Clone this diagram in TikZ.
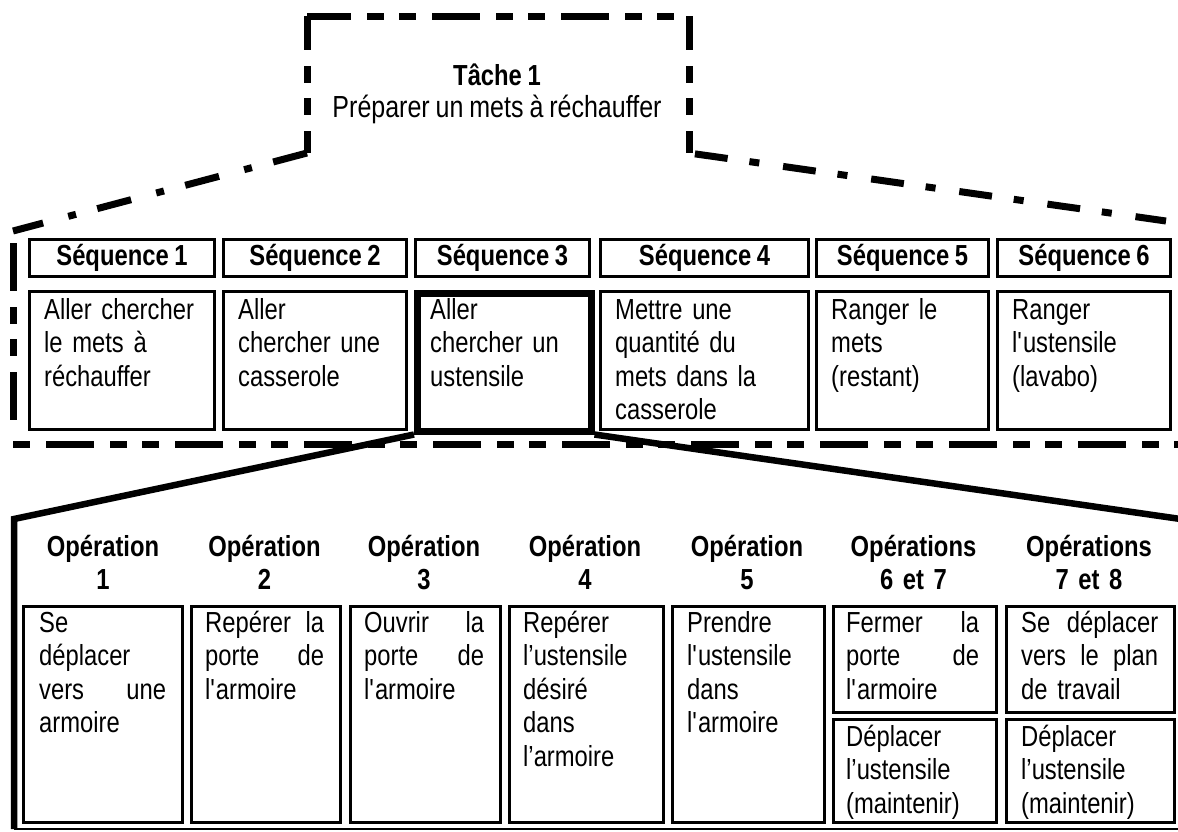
\documentclass[tikz,border=0pt]{standalone}
\usepackage{fontspec}
\setmainfont{Liberation Sans}[FakeStretch=0.82, WordSpace=0.85]
\newcommand\bodyfont{\fontsize{29}{33.5}\selectfont}
\newcommand\jl[1]{\leavevmode\hbox to \linewidth{#1}}
\newcommand\sq{\textquotesingle}
\begin{document}
\begin{tikzpicture}[x=1pt,y=-1pt,
  dashA/.style={line width=7pt, dash pattern=on 48pt off 16pt on 17pt off 15pt on 17pt off 16pt},
  dashdot/.style={line width=7pt, dash pattern=on 35pt off 22pt on 8pt off 26pt},
  dashdotR/.style={line width=7pt, dash pattern=on 33pt off 22pt on 10pt off 24pt},
  cell/.style={draw, line width=3pt, inner sep=0pt, anchor=north west},
  headcell/.style={cell, minimum height=37pt, font=\bfseries\bodyfont},
  heavy/.style={line width=6.5pt, line join=miter},
  txt/.style={anchor=north west, inner sep=0pt, text height=18pt, align=left, font=\bodyfont},
  ophead/.style={anchor=north, inner sep=0pt, text height=18pt, align=center, font=\bfseries\bodyfont}
]
\useasboundingbox (0,0) rectangle (1178,831);

% ---- task box (open at the bottom) ----
\coordinate (tBL) at (307,153);
\coordinate (tTL) at (307,16);
\coordinate (tTR) at (689,16);
\coordinate (tBR) at (689,153);
\draw[dashA, dash phase=4pt] (tTL) -- (tTR);
\draw[dashA, dash phase=14pt] (tTL) -- (tBL);
\draw[dashA, dash phase=14pt] (tTR) -- (tBR);
\node[anchor=base, font=\bfseries\bodyfont, inner sep=0pt] (tache) at (497,85) {Tâche 1};
\node[anchor=base, font=\fontsize{30.5}{34}\selectfont, inner sep=0pt] (tacheTxt) at (497,117) {Préparer un mets à réchauffer};

% ---- dash-dot flares towards the sequence band ----
\coordinate (sTL) at (13,231);
\coordinate (sTR) at (1166,221);
\draw[dashdot] (tBL) -- (sTL);
\draw[dashdotR, dash phase=83pt] (tBR) -- (sTR);

% ---- sequence band outline ----
\coordinate (sL1) at (13,232);
\coordinate (sL2) at (13,430);
\coordinate (sB1) at (13,444);
\coordinate (sB2) at (1178,444);
\draw[dashA, dash phase=118pt] (sL1) -- (sL2);
\draw[dashA, dash phase=96pt] (sB1) -- (sB2);

% ---- sequence headers ----
\node[headcell, minimum width=185pt] (h1) at (28,238)  {Séquence 1};
\node[headcell, minimum width=183pt] (h2) at (222,238) {Séquence 2};
\node[headcell, minimum width=174pt] (h3) at (414,238) {Séquence 3};
\node[headcell, minimum width=208pt] (h4) at (599,238) {Séquence 4};
\node[headcell, minimum width=172pt] (h5) at (815,238) {Séquence 5};
\node[headcell, minimum width=173pt] (h6) at (996,238) {Séquence 6};

% ---- sequence contents ----
\node[cell, minimum width=185pt, minimum height=138pt] (c1) at (28,290) {};
\node[cell, minimum width=183pt, minimum height=138pt] (c2) at (222,290) {};
\node[cell, line width=6.5pt, minimum width=174pt, minimum height=138pt] (c3) at (414,290) {};
\node[cell, minimum width=208pt, minimum height=138pt] (c4) at (599,290) {};
\node[cell, minimum width=172pt, minimum height=138pt] (c5) at (815,290) {};
\node[cell, minimum width=173pt, minimum height=138pt] (c6) at (996,290) {};

\node[txt, text width=155pt] at ([shift={(16,11)}]c1.north west) {Aller chercher\\le mets à\\réchauffer};
\node[txt, text width=153pt] at ([shift={(16,11)}]c2.north west) {Aller\\chercher une\\casserole};
\node[txt, text width=144pt] at ([shift={(16,11)}]c3.north west) {Aller\\chercher un\\ustensile};
\node[txt, text width=178pt] at ([shift={(16,11)}]c4.north west) {Mettre une\\quantité du\\mets dans la\\casserole};
\node[txt, text width=142pt] at ([shift={(16,11)}]c5.north west) {Ranger le\\mets\\(restant)};
\node[txt, text width=143pt] at ([shift={(16,11)}]c6.north west) {Ranger\\l\sq ustensile\\(lavabo)};

% ---- zoom from sequence 3 onto its operations ----
\coordinate (oTL) at (14,519);
\coordinate (oBL) at (14,829);
\coordinate (oBR) at (1178,829);
\coordinate (oR) at (1184,519.5);
\draw[heavy] (c3.south west) -- (oTL) -- (oBL);
\draw[heavy] (c3.south east) -- (oR);
\draw[line width=2.5pt] (oBL) -- (oBR);

% ---- operation headers ----
\node[ophead, text width=159pt] at (103,538) {Opération\\1};
\node[ophead, text width=149pt] at (264.5,538) {Opération\\2};
\node[ophead, text width=150pt] at (424,538) {Opération\\3};
\node[ophead, text width=154pt] at (585,538) {Opération\\4};
\node[ophead, text width=152pt] at (747,538) {Opération\\5};
\node[ophead, text width=163pt] at (913.5,538) {Opérations\\6 et 7};
\node[ophead, text width=168pt] at (1089,538) {Opérations\\7 et 8};

% ---- operation boxes ----
\node[cell, minimum width=159pt, minimum height=216pt] (o1) at (22,605) {};
\node[cell, minimum width=149pt, minimum height=216pt] (o2) at (190,605) {};
\node[cell, minimum width=150pt, minimum height=216pt] (o3) at (349,605) {};
\node[cell, minimum width=154pt, minimum height=216pt] (o4) at (508,605) {};
\node[cell, minimum width=152pt, minimum height=216pt] (o5) at (671,605) {};
\node[cell, minimum width=163pt, minimum height=106pt] (o6a) at (832,605) {};
\node[cell, minimum width=163pt, minimum height=103pt] (o6b) at (832,718) {};
\node[cell, minimum width=168pt, minimum height=106pt] (o7a) at (1005,605) {};
\node[cell, minimum width=168pt, minimum height=103pt] (o7b) at (1005,718) {};

\node[txt, text width=127pt] at ([shift={(17,9)}]o1.north west) {Se\\déplacer\\\jl{vers\hfill une}\\armoire};
\node[txt, text width=119pt] at ([shift={(15,9)}]o2.north west) {\jl{Repérer\hfill la}\\\jl{porte\hfill de}\\l\sq armoire};
\node[txt, text width=120pt] at ([shift={(15,9)}]o3.north west) {\jl{Ouvrir\hfill la}\\\jl{porte\hfill de}\\l\sq armoire};
\node[txt, text width=124pt] at ([shift={(15,9)}]o4.north west) {Repérer\\l’ustensile\\désiré\\dans\\l’armoire};
\node[txt, text width=122pt] at ([shift={(16,9)}]o5.north west) {Prendre\\l\sq ustensile\\dans\\l\sq armoire};
\node[txt, text width=133pt] at ([shift={(14,9)}]o6a.north west) {\jl{Fermer\hfill la}\\\jl{porte\hfill de}\\l\sq armoire};
\node[txt, text width=133pt] at ([shift={(14,10)}]o6b.north west) {Déplacer\\l’ustensile\\(maintenir)};
\node[txt, text width=137pt] at ([shift={(16,9)}]o7a.north west) {\jl{Se\hfill déplacer}\\\jl{vers\hfill le\hfill plan}\\de travail};
\node[txt, text width=137pt] at ([shift={(16,10)}]o7b.north west) {Déplacer\\l’ustensile\\(maintenir)};
\end{tikzpicture}
\end{document}
